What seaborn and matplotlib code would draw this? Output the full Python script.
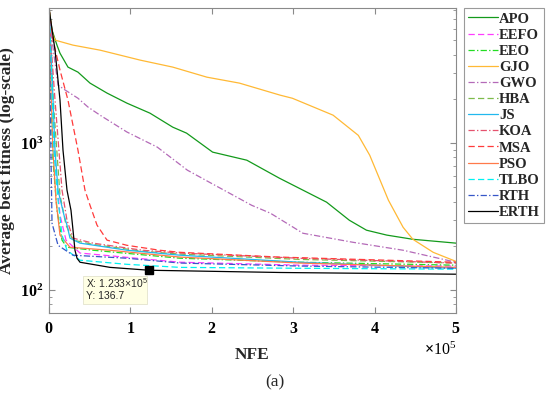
import matplotlib
matplotlib.use("Agg")
import matplotlib.pyplot as plt
import seaborn as sns
from matplotlib.ticker import ScalarFormatter, FixedLocator
from matplotlib.patches import Rectangle

# ---------------- data (NFE, average best fitness) ----------------
names = ["APO", "EEFO", "EEO", "GJO", "GWO", "HBA", "JS", "KOA", "MSA", "PSO", "TLBO", "RTH", "ERTH"]

apo_x = [0, 3700, 9800, 13500, 23300, 35600, 50400, 71300, 95800, 124000, 152000, 169000,
         201000, 243000, 283000, 341000, 369000, 390000, 415000, 447000, 500000]
apo_y = [8280, 5870, 4640, 4090, 3290, 3040, 2560, 2190, 1870, 1600, 1285, 1170,
         869, 766, 578, 397, 299, 256, 237, 222, 209]

eefo_x = [0, 2500, 7400, 13500, 20900, 38100, 161000, 308000, 500000]
eefo_y = [8280, 3670, 766, 324, 219, 179, 155, 148, 146]

eeo_x = [0, 1200, 4900, 9800, 16000, 22100, 54000, 161000, 308000, 500000]
eeo_y = [8280, 3670, 766, 350, 219, 196, 187, 165, 155, 148]

gjo_x = [0, 2500, 4900, 7400, 29500, 62700, 87200, 112000, 152000, 194000, 234000, 284000,
         299000, 349000, 380000, 394000, 417000, 435000, 447000, 472000, 500000]
gjo_y = [8280, 6350, 5430, 5020, 4640, 4290, 3970, 3670, 3290, 2810, 2560, 2120,
         2020, 1550, 1130, 828, 409, 268, 222, 181, 157]

gwo_x = [0, 3700, 11100, 19700, 35600, 47900, 62700, 95800, 133000, 170000, 199000, 249000,
         272000, 312000, 373000, 435000, 500000]
gwo_y = [8280, 5020, 2480, 2300, 2020, 1760, 1550, 1190, 940, 655, 535, 378,
         334, 244, 212, 187, 155]

hba_x = [0, 1200, 6100, 13500, 20900, 29500, 54000, 115000, 161000, 308000, 500000]
hba_y = [8280, 5020, 1670, 443, 277, 219, 205, 184, 176, 162, 153]

js_x = [0, 2500, 7400, 11100, 18400, 22100, 25800, 38100, 95800, 161000, 308000, 500000]
js_y = [8280, 4290, 895, 479, 324, 277, 226, 209, 187, 173, 155, 141]

koa_x = [0, 1200, 7400, 16000, 22100, 29500, 54000, 115000, 161000, 308000, 500000]
koa_y = [8280, 5870, 1963, 479, 299, 226, 209, 187, 179, 165, 153]

msa_x = [0, 4900, 13500, 23300, 35600, 44200, 50400, 59000, 71300, 95800, 136000, 161000,
         283000, 500000]
msa_y = [8280, 5020, 3140, 1963, 895, 479, 378, 277, 219, 202, 187, 181, 168, 155]

pso_x = [0, 1200, 4900, 8600, 13500, 25800, 74900, 161000, 308000, 500000]
pso_y = [8280, 3670, 895, 409, 237, 196, 187, 168, 153, 143]

tlbo_x = [0, 2500, 6100, 11100, 16000, 22100, 38100, 95800, 161000, 308000, 500000]
tlbo_y = [8280, 3670, 895, 409, 237, 187, 160, 150, 143, 141, 139]

rth_x = [0, 1200, 2500, 3700, 11100, 29500, 95800, 161000, 308000, 500000]
rth_y = [8280, 2690, 766, 286, 202, 173, 165, 153, 146, 141]

erth_x = [0, 7400, 13500, 17200, 22100, 27000, 29500, 31900, 34400, 38100, 75000, 123300,
          284000, 500000]
erth_y = [8280, 4290, 1963, 895, 479, 350, 256, 187, 165, 155, 143, 136.7, 132, 128.5]

tip_x = [123300]
tip_y = [136.7]

series_x = [apo_x, eefo_x, eeo_x, gjo_x, gwo_x, hba_x, js_x, koa_x, msa_x, pso_x, tlbo_x, rth_x, erth_x]
series_y = [apo_y, eefo_y, eeo_y, gjo_y, gwo_y, hba_y, js_y, koa_y, msa_y, pso_y, tlbo_y, rth_y, erth_y]

# ---------------- styles ----------------
DASH = (0, (5.0, 2.6))
DASHDOT = (0, (5.0, 1.8, 1.1, 1.8))
colors = ["#139A1B", "#FF3CFF", "#22DD22", "#FFB935", "#B46AB8", "#7DBB4A", "#22B8EE",
          "#E5526E", "#FF3B3B", "#FF7A4A", "#00F2F2", "#3656C8", "#000000"]
styles = ["-", DASH, DASHDOT, "-", DASHDOT, DASH, "-", DASHDOT, DASH, "-", DASH, DASHDOT, "-"]

sns.set_style("ticks")
plt.rcParams["font.family"] = ["Liberation Serif", "DejaVu Serif"]
plt.rcParams["font.weight"] = "bold"
plt.rcParams["mathtext.fontset"] = "custom"
plt.rcParams["mathtext.rm"] = "Liberation Serif"
plt.rcParams["mathtext.bf"] = "Liberation Serif:bold"
plt.rcParams["mathtext.it"] = "Liberation Serif:italic"

W, H = 550, 395
fig = plt.figure(figsize=(W / 100, H / 100), dpi=100)
ax = fig.add_axes([49 / W, 1 - 313 / H, (456 - 49) / W, (313 - 8) / H])

for name, xs, ys, c, ls in zip(names, series_x, series_y, colors, styles):
    sns.lineplot(x=xs, y=ys, ax=ax, color=c, linestyle=ls, linewidth=0.9,
                 label=name, estimator=None, sort=False)

ax.plot(tip_x, tip_y, marker="s", color="black", markersize=5.5, linestyle="none")

ax.set_yscale("log")
ax.set_xlim(0, 5e5)
ax.set_ylim(70, 8300)
ax.xaxis.set_major_locator(FixedLocator([0, 1e5, 2e5, 3e5, 4e5, 5e5]))
fmt = ScalarFormatter(useMathText=True)
fmt.set_powerlimits((0, 0))
ax.xaxis.set_major_formatter(fmt)

for s in ax.spines.values():
    s.set_color("#8a8a8a")
    s.set_linewidth(0.8)
ax.tick_params(which="both", direction="in", top=True, right=True, colors="#8a8a8a",
               labelcolor="black", labelsize=11.5)
ax.tick_params(which="major", length=4)
ax.tick_params(which="minor", length=2.2)
ax.tick_params(axis="x", pad=6)
ax.tick_params(axis="y", pad=4)
ax.xaxis.get_offset_text().set_fontsize(11.5)
ax.xaxis.get_offset_text().set_fontweight("normal")

ax.set_xlabel("NFE", fontsize=12.5, fontweight="bold", labelpad=7)
ax.set_ylabel("Average best fitness (log-scale)", fontsize=12.5, fontweight="bold", labelpad=4)

handles, labels = ax.get_legend_handles_labels()
leg = ax.legend(handles, labels, loc="upper left", bbox_to_anchor=(464 / W, 1 - 8 / H),
                bbox_transform=fig.transFigure, borderaxespad=0, frameon=True, fancybox=False,
                edgecolor="#9a9a9a", framealpha=1, fontsize=10.5, handlelength=2.0,
                handletextpad=0.1, labelspacing=0.2, borderpad=0.3)
leg.get_frame().set_linewidth(0.8)

# data tip
fig.patches.append(Rectangle((83 / W, 1 - 304 / H), 64 / W, 28 / H, transform=fig.transFigure,
                             facecolor="#FFFFE4", edgecolor="#E3E3CC", linewidth=0.6, zorder=5))
fig.text(86 / W, 1 - 283 / H, r"X: 1.233×10$^{\mathdefault{5}}$", fontsize=7.5,
         family="Liberation Sans", fontweight="normal", va="center", ha="left", zorder=6)
fig.text(86 / W, 1 - 296 / H, "Y: 136.7", fontsize=7.5, family="Liberation Sans",
         fontweight="normal", va="center", ha="left", zorder=6)

fig.text(275 / W, 1 - 382 / H, "(a)", fontsize=12.5, fontweight="normal", ha="center", va="center")

fig.savefig("out.png", dpi=100)
